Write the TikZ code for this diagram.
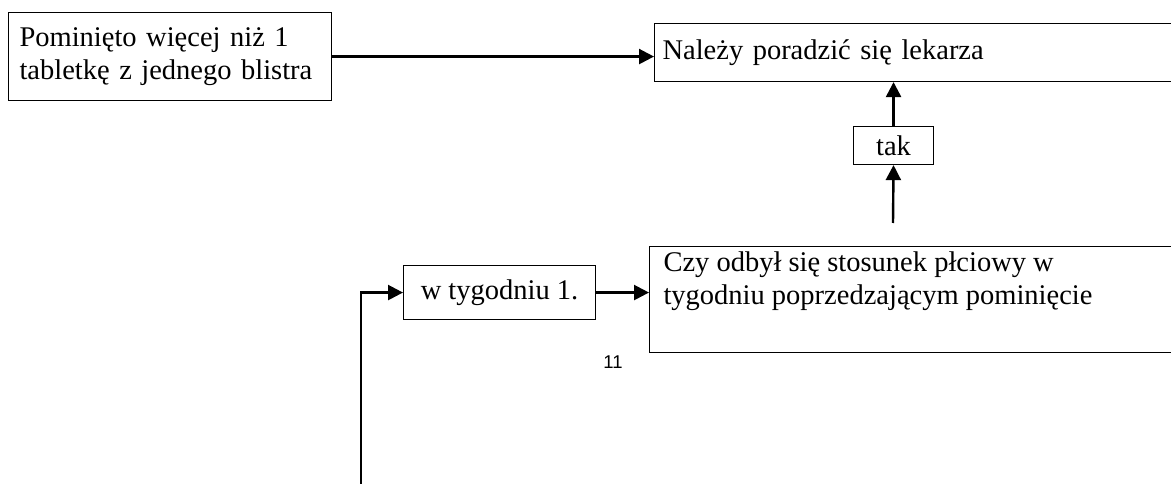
\documentclass[tikz,border=0pt]{standalone}
\usepackage{fontspec}
\setmainfont{Liberation Serif}
\newfontfamily\arialfont{Liberation Sans}
\usetikzlibrary{arrows.meta}
\begin{document}
\begin{tikzpicture}[x=1pt,y=-1pt,
  box/.style={draw, line width=1.1pt, inner sep=0pt, font=\fontsize{28.5}{33}\selectfont},
  arr/.style={-{Triangle[length=15pt,width=15pt]}, line width=2.4pt},
  pagenum/.style={font=\arialfont\fontsize{18.5}{21}\selectfont, inner sep=0pt}]
\useasboundingbox (0,0) rectangle (1171,484);
\clip (0,0) rectangle (1171,484);
\node[box, anchor=north west, minimum width=323pt, minimum height=88pt,
      text width=301pt, align=left, inner xsep=11pt] (a) at (8,12)
  {Pominięto więcej niż 1\\tabletkę z jednego blistra};
\node[box, anchor=north west, minimum width=560pt, minimum height=58pt,
      text width=544pt, align=left, inner xsep=8pt] (b) at (654,23)
  {Należy poradzić się lekarza};
\node[box, anchor=north west, minimum width=80pt, minimum height=38pt] (tak) at (853,126) {tak};
\node[box, anchor=north west, minimum width=192pt, minimum height=54pt] (w) at (403,265) {w tygodniu 1.};
\node[box, anchor=north west] (c) at (649,246)
  {\parbox[c][106pt][t]{560pt}{\vspace*{5pt}\leftskip=14pt\noindent Czy odbył się stosunek płciowy w\\tygodniu poprzedzającym pominięcie}};
\node[pagenum] (pg) at (613,362) {11};
\coordinate (tin) at (893,223);
\coordinate (lb) at (361,490);
\draw[arr] (a.east) -- (a.east -| b.west);
\draw[arr] (tak.north) -- (tak.north |- b.south);
\draw[arr] (tin) -- (tak.south);
\draw[arr] (w.east) -- (w.east -| c.west);
\draw[arr] (lb) |- (w.west);
\end{tikzpicture}
\end{document}
